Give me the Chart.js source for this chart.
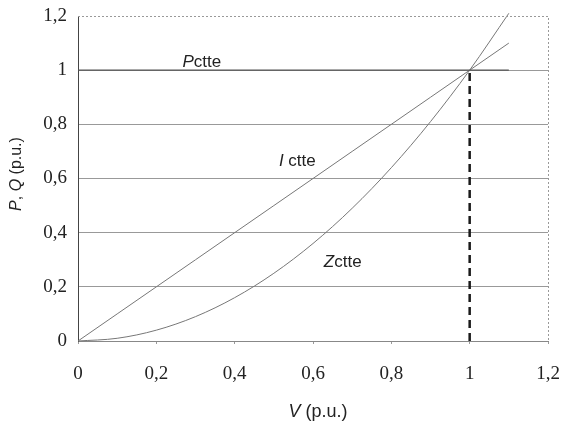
<!DOCTYPE html>
<html lang="en">
<head>
    <meta charset="UTF-8">
    <title>P, Q vs V</title>
    <script src="https://cdn.jsdelivr.net/npm/chart.js"></script>
    <style>
        html, body { margin: 0; padding: 0; background: #fff; }
        #wrap { width: 566px; height: 424px; }
    </style>
</head>
<body>
    <div id="wrap"><canvas id="loadChart" width="566" height="424"></canvas></div>

    <script>
        // voltage points (p.u.)
        const voltage = [0, 0.1, 0.2, 0.3, 0.4, 0.5, 0.6, 0.7, 0.8, 0.9, 1.0, 1.1];
        // constant power, constant current, constant impedance
        const pConst = [1, 1, 1, 1, 1, 1, 1, 1, 1, 1, 1, 1];
        const iConst = [0, 0.1, 0.2, 0.3, 0.4, 0.5, 0.6, 0.7, 0.8, 0.9, 1.0, 1.1];
        const zConst = [0, 0.01, 0.04, 0.09, 0.16, 0.25, 0.36, 0.49, 0.64, 0.81, 1.0, 1.21];
        // nominal voltage marker
        const markerV = [1, 1];
        const markerY = [0, 1];

        const xTicks = [0, 0.2, 0.4, 0.6, 0.8, 1, 1.2];
        const yTicks = [0, 0.2, 0.4, 0.6, 0.8, 1, 1.2];

        // curve labels: [italic part, plain part], anchor in data units
        const curveLabels = [
            { italic: 'P', plain: 'ctte', v: 0.316, y: 1.028 },
            { italic: 'I', plain: ' ctte', v: 0.56, y: 0.665 },
            { italic: 'Z', plain: 'ctte', v: 0.676, y: 0.29 }
        ];

        const toPts = (xs, ys) => xs.map((x, i) => ({ x: x, y: ys[i] }));
        const fmt = v => String(Math.round(v * 10) / 10).replace('.', ',');
        const sans = '"Liberation Sans", Arial, sans-serif';
        const serif = '"Liberation Serif", "Times New Roman", serif';

        function mixedText(ctx, parts, x, y, size) {
            // parts: [[text, italic], ...] drawn centred at x
            let total = 0;
            parts.forEach(p => {
                ctx.font = (p[1] ? 'italic ' : '') + size + 'px ' + sans;
                total += ctx.measureText(p[0]).width;
            });
            let cx = x - total / 2;
            parts.forEach(p => {
                ctx.font = (p[1] ? 'italic ' : '') + size + 'px ' + sans;
                ctx.fillText(p[0], cx, y);
                cx += ctx.measureText(p[0]).width;
            });
        }

        const textPlugin = {
            id: 'textPlugin',
            afterDraw(chart) {
                const ctx = chart.ctx;
                const xs = chart.scales.x, ys = chart.scales.y;
                const area = chart.chartArea;
                ctx.save();
                ctx.fillStyle = '#222';
                ctx.textAlign = 'left';
                ctx.textBaseline = 'middle';

                // dotted top and right border
                ctx.strokeStyle = '#999';
                ctx.lineWidth = 1;
                ctx.setLineDash([2, 2]);
                ctx.beginPath();
                ctx.moveTo(area.left, area.top + 0.5);
                ctx.lineTo(area.right + 0.5, area.top + 0.5);
                ctx.lineTo(area.right + 0.5, area.bottom);
                ctx.stroke();
                ctx.setLineDash([]);

                curveLabels.forEach(l => {
                    mixedText(ctx, [[l.italic, true], [l.plain, false]],
                        xs.getPixelForValue(l.v), ys.getPixelForValue(l.y), 17);
                });

                // axis titles
                mixedText(ctx, [['V', true], [' (p.u.)', false]], 318, 412, 18);
                ctx.translate(17, 174);
                ctx.rotate(-Math.PI / 2);
                mixedText(ctx, [['P', true], [', ', false], ['Q', true], [' (p.u.)', false]], 0, 0, 16);
                ctx.restore();
            }
        };

        new Chart(document.getElementById('loadChart').getContext('2d'), {
            type: 'scatter',
            data: {
                datasets: [
                    {
                        label: 'Pctte',
                        data: toPts(voltage, pConst),
                        showLine: true,
                        borderColor: '#555',
                        borderWidth: 1.3,
                        pointRadius: 0
                    },
                    {
                        label: 'I ctte',
                        data: toPts(voltage, iConst),
                        showLine: true,
                        borderColor: '#777',
                        borderWidth: 1,
                        pointRadius: 0
                    },
                    {
                        label: 'Zctte',
                        data: toPts(voltage, zConst),
                        showLine: true,
                        borderColor: '#777',
                        borderWidth: 1,
                        pointRadius: 0,
                        cubicInterpolationMode: 'monotone',
                        clip: false
                    },
                    {
                        label: 'V nominal',
                        data: toPts(markerV, markerY),
                        showLine: true,
                        borderColor: '#1a1a1a',
                        borderWidth: 2.5,
                        borderDash: [8, 5],
                        pointRadius: 0
                    }
                ]
            },
            options: {
                responsive: false,
                animation: false,
                layout: { padding: { top: 16, right: 18, left: 0, bottom: 0 } },
                plugins: {
                    legend: { display: false },
                    tooltip: { enabled: false }
                },
                scales: {
                    x: {
                        type: 'linear',
                        min: 0,
                        max: 1.2,
                        afterFit: s => { s.height = 83; s.paddingLeft = 0; s.paddingRight = 0; },
                        afterBuildTicks: s => { s.ticks = xTicks.map(v => ({ value: v })); },
                        grid: {
                            display: true,
                            drawOnChartArea: false,
                            drawTicks: true,
                            tickLength: 3,
                            color: '#999'
                        },
                        border: { color: '#888', width: 1, dash: [3, 2] },
                        ticks: {
                            padding: 19,
                            color: '#222',
                            font: { family: serif, size: 19 },
                            callback: v => fmt(v)
                        }
                    },
                    y: {
                        type: 'linear',
                        min: 0,
                        max: 1.2,
                        afterFit: s => { s.width = 78; s.paddingTop = 0; s.paddingBottom = 0; },
                        afterBuildTicks: s => { s.ticks = yTicks.map(v => ({ value: v })); },
                        grid: {
                            color: ctx => ctx.tick && ctx.tick.value >= 1.2 ? 'rgba(0,0,0,0)' : '#999',
                            drawTicks: false
                        },
                        border: { color: '#444', width: 1 },
                        ticks: {
                            padding: 11,
                            color: '#222',
                            font: { family: serif, size: 19 },
                            callback: v => fmt(v)
                        }
                    }
                }
            },
            plugins: [textPlugin]
        });
    </script>
</body>
</html>
